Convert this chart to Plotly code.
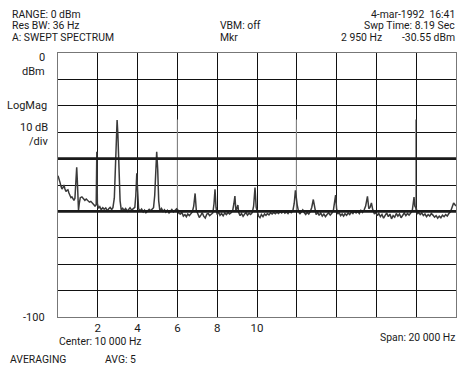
import plotly.graph_objects as go

# ---- data ----
freq_khz = [0.00,0.05,0.10,0.15,0.20,0.25,0.30,0.35,0.40,0.45,0.50,0.55,0.60,0.65,0.70,0.75,0.80,0.85,0.88,0.91,0.94,0.97,
            1.00,1.03,1.07,1.12,1.20,1.28,1.35,1.42,1.50,1.58,1.65,1.72,1.80,1.86,1.92,1.95,1.98,
            2.03,2.10,2.17,2.25,2.32,2.40,2.48,2.55,2.62,2.70,2.76,2.83,2.88,2.93,2.97,
            3.01,3.06,3.12,3.18,3.25,3.32,3.40,3.48,3.55,3.62,3.70,3.78,3.86,3.91,3.96,
            4.00,4.05,4.12,4.20,4.28,4.35,4.42,4.50,4.58,4.65,4.72,4.80,4.86,4.90,4.96,
            5.01,5.06,5.12,5.20,5.28,5.35,5.42,5.50,5.58,5.65,5.72,5.80,5.88,5.96,
            6.03,6.08,6.15,6.22,6.30,6.38,6.45,6.52,6.60,6.68,6.75,6.82,6.89,6.95,
            7.02,7.10,7.18,7.25,7.32,7.40,7.48,7.55,7.62,7.70,7.78,7.84,7.89,7.94,
            8.00,8.07,8.14,8.22,8.30,8.38,8.46,8.55,8.62,8.70,8.78,8.84,8.89,8.94,
            9.00,9.04,9.08,9.15,9.22,9.30,9.38,9.45,9.52,9.60,9.68,9.76,9.83,9.90,9.96,
            10.02,10.08,10.15,10.22,10.30,10.38,10.45,10.52,10.60,10.68,10.76,10.84,10.92,
            11.00,11.08,11.16,11.24,11.32,11.40,11.48,11.56,11.64,11.72,11.80,11.87,11.93,
            12.02,12.08,12.15,12.22,12.30,12.38,12.45,12.52,12.60,12.68,12.75,12.83,12.90,12.97,
            13.05,13.12,13.20,13.28,13.36,13.44,13.52,13.60,13.68,13.76,13.84,13.90,13.95,
            14.00,14.06,14.13,14.20,14.28,14.35,14.42,14.50,14.58,14.66,14.74,14.82,14.90,14.98,
            15.06,15.14,15.22,15.30,15.38,15.46,15.55,15.62,15.68,15.75,15.82,15.90,15.97,
            16.05,16.12,16.20,16.28,16.36,16.44,16.52,16.60,16.68,16.76,16.84,16.92,
            17.00,17.08,17.16,17.24,17.32,17.40,17.48,17.56,17.64,17.72,17.80,17.85,17.89,17.93,
            18.01,18.06,18.13,18.20,18.28,18.36,18.44,18.52,18.60,18.68,18.76,18.84,18.92,
            19.00,19.08,19.16,19.24,19.32,19.40,19.48,19.56,19.64,19.72,19.80,19.88,19.95,20.00]

level_dbm = [-46.5,-47.5,-49.0,-50.5,-51.5,-51.0,-50.0,-51.5,-52.5,-52.0,-51.8,-53.0,-54.0,-54.8,-54.5,-55.2,-55.8,-55.0,-52.0,-46.0,-43.3,-48.0,
             -56.0,-59.5,-57.0,-54.8,-54.5,-55.2,-55.8,-55.3,-56.0,-56.5,-56.2,-56.8,-57.5,-58.0,-57.5,-37.4,-57.0,
             -58.8,-58.2,-59.4,-58.6,-59.2,-58.7,-59.8,-59.0,-58.5,-59.3,-58.6,-55.0,-46.0,-34.0,-25.4,
             -31.0,-45.0,-56.0,-59.5,-58.8,-59.6,-58.9,-59.9,-59.2,-58.6,-59.5,-59.1,-58.5,-54.0,-45.6,
             -52.0,-59.0,-59.8,-59.1,-60.2,-59.5,-60.5,-59.7,-59.2,-59.8,-59.0,-58.6,-54.0,-45.0,-37.4,
             -44.0,-56.0,-59.8,-58.9,-60.0,-59.4,-60.3,-59.6,-60.6,-59.9,-59.3,-60.2,-59.6,-59.0,
             -59.5,-60.8,-61.0,-60.3,-61.8,-61.2,-62.0,-61.0,-61.6,-60.6,-60.2,-58.0,-53.2,-59.5,
             -61.0,-62.3,-61.4,-60.5,-61.8,-62.5,-61.0,-60.8,-61.6,-61.0,-60.6,-57.0,-51.6,-58.5,
             -61.2,-60.2,-61.5,-60.8,-61.7,-60.6,-61.2,-60.4,-61.0,-60.5,-59.6,-57.0,-54.2,-60.0,
             -58.5,-57.6,-60.4,-61.6,-60.8,-61.9,-61.0,-60.5,-61.4,-60.7,-61.2,-60.5,-58.0,-51.0,-58.5,
             -60.8,-61.8,-62.4,-61.2,-62.0,-61.0,-61.5,-60.8,-61.3,-60.5,-61.0,-60.4,-60.9,
             -60.3,-60.8,-60.1,-60.6,-59.9,-60.7,-60.2,-60.8,-60.0,-60.5,-59.8,-57.0,-52.0,
             -57.5,-59.8,-61.0,-60.2,-59.4,-60.5,-61.2,-60.4,-61.0,-60.0,-58.5,-55.5,-59.0,-61.2,
             -60.4,-61.5,-60.6,-61.8,-61.0,-62.0,-61.2,-60.5,-61.4,-60.7,-59.5,-56.0,-53.8,
             -59.0,-61.0,-60.5,-61.6,-61.0,-61.8,-60.9,-61.5,-60.6,-61.2,-60.2,-60.8,-59.9,-60.6,
             -60.0,-60.8,-59.6,-60.4,-59.5,-58.0,-54.3,-59.0,-58.5,-56.8,-59.5,-61.0,-60.3,
             -61.6,-60.8,-62.0,-61.2,-62.6,-61.5,-60.6,-62.0,-61.0,-62.8,-61.6,-62.2,
             -60.8,-61.8,-61.0,-62.4,-61.4,-60.6,-61.6,-60.8,-61.4,-60.4,-59.8,-57.0,-54.6,-58.0,
             -59.0,-61.0,-60.4,-61.2,-60.6,-61.6,-61.0,-62.0,-61.2,-61.8,-60.8,-61.4,-62.2,
             -61.6,-62.6,-61.8,-62.4,-61.4,-62.0,-61.2,-61.8,-60.8,-60.2,-58.5,-56.8,-57.5,-58.0]

# narrow, faint spikes (drawn lighter, as in the scan)
spike_freq_khz = [6.00, 11.98, 17.97]
spike_top_dbm = [-25.2, -25.2, -25.2]
spike_base_dbm = [-59.3, -59.8, -59.8]

x_tick_vals = [0, 2, 4, 6, 8, 10, 12, 14, 16, 18, 20]
x_tick_text = ["", "2", "4", "6", "8", "10", "", "", "", "", ""]
ref_levels_dbm = [-40, -60]

header_left = ["RANGE: 0 dBm", "Res BW: 36 Hz", "A: SWEPT SPECTRUM"]
header_mid = ["VBM: off", "Mkr"]
header_right = ["4-mar-1992  16:41", "Swp Time: 8.19 Sec", "-30.55 dBm"]
marker_freq_text = "2 950 Hz"

# ---- layout geometry ----
W, H = 459, 365
L, R, T, B = 58, 3, 53, 48
PW, PH = W - L - R, H - T - B
FONT = "Roboto, Liberation Sans, Arial, sans-serif"
FS = 10.4

def px(x):
    return (x - L) / PW

def py(y):
    return (H - B - y) / PH

fig = go.Figure()

sx, sy = [], []
for f, top, base in zip(spike_freq_khz, spike_top_dbm, spike_base_dbm):
    sx += [f, f, None]
    sy += [base, top, None]
fig.add_trace(go.Scatter(x=sx, y=sy, mode="lines", line=dict(color="#8a8a8a", width=1.1),
                         hoverinfo="skip", showlegend=False))

fig.add_trace(go.Scatter(x=freq_khz, y=level_dbm, mode="lines",
                         line=dict(color="#3a3a3a", width=1.5), hoverinfo="skip",
                         showlegend=False))

for lv in ref_levels_dbm:
    fig.add_shape(type="line", xref="paper", x0=0, x1=1, yref="y", y0=lv, y1=lv,
                  line=dict(color="#1a1a1a", width=2.6), layer="above")

ann = []
def text(t, x, y, anchor="left", size=FS):
    ann.append(dict(text=t, x=px(x), y=py(y), xref="paper", yref="paper",
                    xanchor=anchor, yanchor="middle", showarrow=False,
                    font=dict(size=size, color="#1a1a1a", family=FONT)))

for i, t in enumerate(header_left):
    text(t, 10, [14.5, 25.5, 37][i])
for i, t in enumerate(header_mid):
    text(t, 218, [25.5, 37][i])
for i, t in enumerate(header_right):
    text(t, 456.5, [14.5, 25.5, 37][i], anchor="right")
text(marker_freq_text, 339, 37)

text("0", 47, 57, anchor="right", size=11)
text("dBm", 47, 71, anchor="right", size=11)
text("LogMag", 48.5, 105, anchor="right", size=11)
text("10 dB", 49.5, 128, anchor="right", size=11)
text("/div", 49.5, 141, anchor="right", size=11)
text("-100", 47, 317, anchor="right", size=11)

text("Center: 10 000 Hz", 57, 341.7)
text("Span: 20 000 Hz", 456.5, 337.5, anchor="right")
text("AVERAGING", 8, 359.5)
text("AVG: 5", 103, 359.5)

fig.update_layout(
    width=W, height=H, margin=dict(l=L, r=R, t=T, b=B),
    paper_bgcolor="white", plot_bgcolor="white",
    annotations=ann,
    xaxis=dict(range=[0, 20], tickvals=x_tick_vals, ticktext=x_tick_text,
               showgrid=True, gridcolor="#111", gridwidth=1, zeroline=False,
               showline=True, linecolor="#777", linewidth=1, mirror=True,
               ticks="", tickfont=dict(size=11.5, color="#1a1a1a", family=FONT)),
    yaxis=dict(range=[-100, 0], dtick=10, showticklabels=False,
               showgrid=True, gridcolor="#111", gridwidth=1, zeroline=False,
               showline=True, linecolor="#777", linewidth=1, mirror=True, ticks=""),
)

fig.write_html("out.html", config={"displayModeBar": False, "staticPlot": True})
with open("out.html", encoding="utf-8") as fh:
    page = fh.read()
page = page.replace("<body>", '<body style="margin:0;padding:0;overflow:hidden">', 1)
with open("out.html", "w", encoding="utf-8") as fh:
    fh.write(page)
